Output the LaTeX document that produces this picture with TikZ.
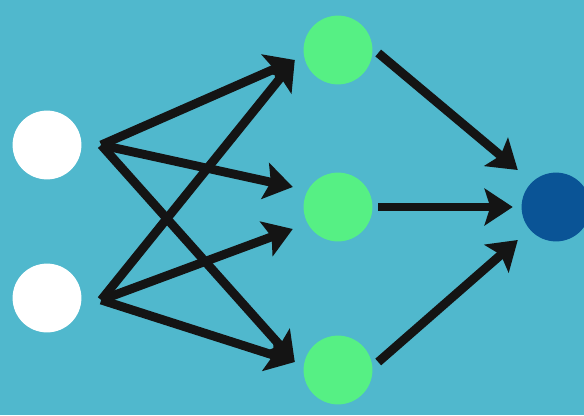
\documentclass[tikz,border=0pt]{standalone}
\usepackage{xcolor}
\usepackage{tikz}
\usetikzlibrary{calc, arrows.meta}
\definecolor{BgColor}{RGB}{80,184,205}
\definecolor{InColor}{RGB}{255,255,255}
\definecolor{HidColor}{RGB}{86,240,132}
\definecolor{OutColor}{RGB}{10,84,150}
\tikzset{
    neuron/.style={
        circle,
        minimum size=1.72cm,
        inner sep=0pt,
        outer sep=0.22cm,
        draw=none
    },
    inp/.style={neuron, fill=InColor},
    hid/.style={neuron, fill=HidColor},
    outp/.style={neuron, fill=OutColor},
    link/.style={-{Stealth[length=20pt, width=26pt, inset=4pt]}, line width=6.3pt, draw=black!92}
}

\begin{document}
\begin{tikzpicture}[x=0.025cm, y=-0.025cm]

% background
\fill[BgColor] (0,0) rectangle (584,415);
\useasboundingbox (0,0) rectangle (584,415);

% Input layer
\node[inp] (i1) at (47,145) {};
\node[inp] (i2) at (47,298) {};

% Hidden layer
\node[hid] (h1) at (338,50) {};
\node[hid] (h2) at (338,207) {};
\node[hid] (h3) at (338,370) {};

% Output
\node[outp] (o1) at (556,207) {};

% input -> hidden
\draw[link] ($(i1.east)+(11,0)$) -- ($(h1.west)+(0,10)$);
\draw[link] ($(i1.east)+(11,0)$) -- ($(h2.west)+(-2,-20)$);
\draw[link] ($(i1.east)+(11,0)$) -- ($(h3.west)+(0,-8)$);
\draw[link] ($(i2.east)+(11,2)$) -- ($(h1.west)+(0,10)$);
\draw[link] ($(i2.east)+(11,2)$) -- ($(h2.west)+(-2,22)$);
\draw[link] ($(i2.east)+(11,2)$) -- ($(h3.west)+(0,-8)$);

% hidden -> output
\draw[link] ($(h1.east)+(-3,3)$) -- ($(o1.west)+(5,-37)$);
\draw[link] ($(h2.east)+(-3,0)$) -- (o1.west);
\draw[link] ($(h3.east)+(-3,-8)$) -- ($(o1.west)+(5,33)$);

\end{tikzpicture}
\end{document}
